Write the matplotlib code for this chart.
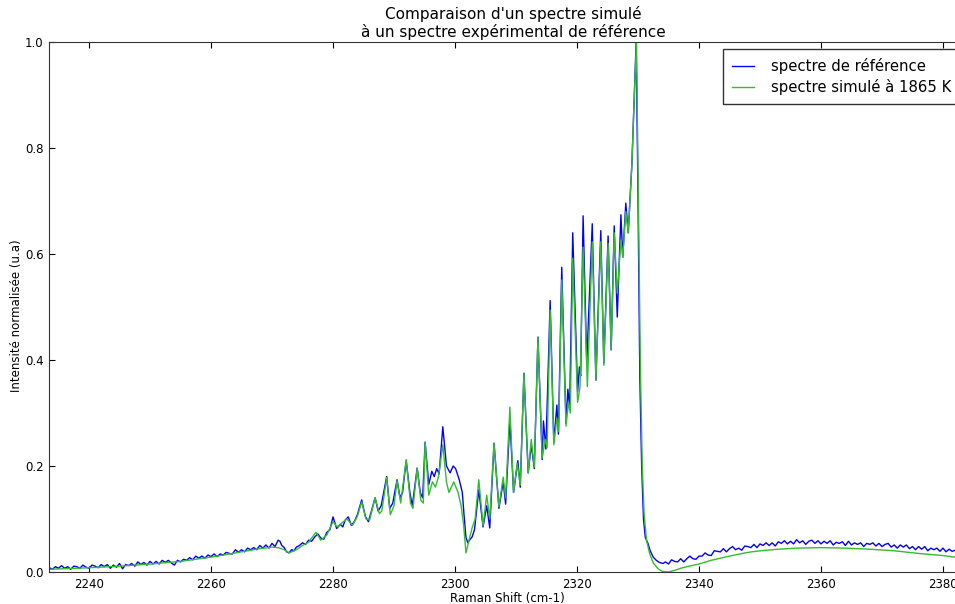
import matplotlib
matplotlib.use('Agg')
import matplotlib.pyplot as plt
import numpy as np

# reference spectrum (blue), noisy baseline part, thousandths, 0.5 cm-1 steps
ref_base_y = [8, 5, 10, 7, 12, 7, 10, 5, 11, 10,
              7, 13, 9, 7, 13, 11, 8, 14, 10, 14,
              7, 13, 9, 16, 6, 14, 12, 16, 11, 19,
              14, 18, 13, 20, 15, 20, 15, 22, 18, 22,
              17, 13, 22, 19, 24, 22, 27, 23, 30, 26,
              30, 26, 32, 29, 34, 29, 34, 32, 37, 35,
              34, 42, 37, 42, 38, 45, 42, 46, 42, 50,
              45, 51, 45, 54, 48, 60]
ref_base_range = (2233.5, 2271.0)

# reference spectrum, band region (read peak by peak)
ref_peak_x = [2271.3, 2271.6, 2272.0, 2272.4, 2272.8, 2273.2, 2273.6, 2274.0, 2274.5, 2275.0,
              2275.5, 2276.0, 2276.5, 2277.0, 2277.5, 2278.0, 2278.5, 2279.0, 2279.5, 2280.0,
              2280.6, 2281.2, 2281.6, 2282.0, 2282.5, 2283.0, 2283.5, 2284.0, 2284.7, 2285.3,
              2285.8, 2286.3, 2286.9, 2287.4, 2287.9, 2288.8, 2289.3, 2289.8, 2290.5, 2291.0,
              2291.4, 2292.0, 2292.6, 2293.0, 2293.8, 2294.3, 2294.7, 2295.1, 2295.7, 2296.2,
              2296.6, 2297.0, 2297.4, 2298.0, 2298.6, 2299.2, 2299.7, 2300.1, 2300.7, 2301.2,
              2301.5, 2301.8, 2302.1, 2302.5, 2302.8, 2303.2, 2303.9, 2304.6, 2305.2, 2305.7,
              2306.4, 2307.2, 2307.9, 2308.3, 2309.0, 2309.6, 2310.3, 2310.7, 2311.3, 2312.0,
              2312.5, 2313.0, 2313.6, 2314.3, 2314.5, 2314.9, 2315.6, 2316.2, 2316.7, 2316.95,
              2317.5, 2318.2, 2318.5, 2318.8, 2319.3, 2320.1, 2320.4, 2320.6, 2321.0, 2321.6,
              2322.5, 2323.1, 2323.9, 2324.4, 2325.1, 2325.6, 2326.1, 2326.6, 2327.2, 2327.5,
              2328.0, 2328.4, 2329.0, 2329.4, 2329.7, 2330.0, 2330.3, 2330.6, 2330.9, 2331.2,
              2331.6, 2332.0, 2332.5, 2333.0, 2333.5, 2334.1]
ref_peak_y = [0.058, 0.050, 0.046, 0.038, 0.036, 0.042, 0.040, 0.047, 0.050, 0.055,
              0.052, 0.060, 0.058, 0.066, 0.072, 0.064, 0.062, 0.075, 0.080, 0.104,
              0.082, 0.090, 0.085, 0.098, 0.104, 0.088, 0.095, 0.108, 0.136, 0.105,
              0.095, 0.115, 0.140, 0.115, 0.125, 0.180, 0.120, 0.130, 0.174, 0.140,
              0.150, 0.210, 0.150, 0.125, 0.196, 0.150, 0.140, 0.245, 0.165, 0.190,
              0.180, 0.195, 0.185, 0.274, 0.200, 0.187, 0.200, 0.195, 0.174, 0.150,
              0.105, 0.065, 0.055, 0.062, 0.066, 0.080, 0.155, 0.085, 0.125, 0.083,
              0.243, 0.120, 0.170, 0.128, 0.287, 0.150, 0.210, 0.160, 0.375, 0.187,
              0.240, 0.195, 0.443, 0.212, 0.285, 0.232, 0.512, 0.245, 0.315, 0.260,
              0.575, 0.280, 0.345, 0.310, 0.640, 0.340, 0.387, 0.370, 0.672, 0.394,
              0.657, 0.362, 0.644, 0.394, 0.634, 0.419, 0.653, 0.481, 0.674, 0.594,
              0.696, 0.640, 0.770, 0.900, 1.000, 0.710, 0.368, 0.200, 0.100, 0.065,
              0.055, 0.040, 0.028, 0.022, 0.018, 0.016]

# reference spectrum, noisy tail, thousandths, 0.5 cm-1 steps
ref_tail_y = [19, 15, 23, 20, 19, 25, 19, 25, 30, 25,
              24, 30, 30, 36, 32, 31, 40, 39, 38, 44,
              38, 44, 48, 42, 45, 41, 49, 48, 46, 52,
              46, 53, 50, 55, 50, 55, 49, 57, 54, 59,
              53, 58, 53, 61, 55, 59, 52, 58, 60, 54,
              59, 53, 58, 54, 59, 51, 56, 54, 57, 50,
              58, 51, 55, 52, 55, 48, 54, 52, 55, 49,
              54, 48, 52, 54, 47, 51, 45, 51, 47, 51,
              44, 48, 42, 48, 43, 48, 40, 45, 42, 45,
              39, 45, 38, 43, 39, 41, 36, 41, 38, 39,
              35, 39, 35]
ref_tail_range = (2334.5, 2385.5)

# simulated spectrum at 1865 K (green)
sim_x = [2233.4, 2240.0, 2245.0, 2250.0, 2255.0, 2260.0, 2265.0, 2268.0, 2270.0, 2271.0,
         2272.0, 2272.8, 2274.0, 2275.0, 2276.0, 2277.2, 2278.0, 2279.0, 2280.0, 2280.7,
         2281.5, 2282.3, 2283.2, 2284.0, 2284.7, 2285.4, 2286.0, 2286.9, 2287.6, 2288.0,
         2288.8, 2289.4, 2290.0, 2290.5, 2291.1, 2292.0, 2292.7, 2293.1, 2293.8, 2294.4,
         2294.8, 2295.1, 2295.7, 2296.3, 2296.8, 2297.3, 2298.0, 2298.6, 2299.0, 2299.8,
         2300.5, 2301.0, 2301.4, 2301.8, 2302.3, 2302.8, 2303.3, 2303.9, 2304.6, 2305.2,
         2305.7, 2306.4, 2307.2, 2307.9, 2308.3, 2309.0, 2309.6, 2310.2, 2310.7, 2311.3,
         2312.0, 2312.5, 2313.0, 2313.6, 2314.3, 2314.8, 2315.1, 2315.6, 2316.2, 2316.7,
         2317.0, 2317.5, 2318.2, 2318.6, 2318.9, 2319.3, 2320.1, 2320.5, 2321.0, 2321.7,
         2322.5, 2323.1, 2323.9, 2324.4, 2325.1, 2325.6, 2326.1, 2326.6, 2327.2, 2327.5,
         2328.0, 2328.4, 2329.0, 2329.4, 2329.75, 2330.0, 2330.4, 2330.7, 2331.0, 2331.4,
         2331.9, 2332.5, 2333.3, 2334.0, 2335.0, 2336.0, 2337.0, 2338.0, 2340.0, 2342.0,
         2345.0, 2348.0, 2350.0, 2353.0, 2356.0, 2360.0, 2364.0, 2368.0, 2372.0, 2376.0,
         2380.0, 2382.0, 2385.5]
sim_y = [0.005, 0.008, 0.011, 0.015, 0.020, 0.028, 0.038, 0.044, 0.047, 0.046,
         0.042, 0.036, 0.042, 0.050, 0.056, 0.075, 0.060, 0.070, 0.095, 0.085,
         0.093, 0.100, 0.088, 0.105, 0.132, 0.100, 0.098, 0.140, 0.110, 0.115,
         0.178, 0.108, 0.125, 0.172, 0.130, 0.212, 0.130, 0.120, 0.196, 0.135,
         0.130, 0.245, 0.145, 0.170, 0.160, 0.180, 0.240, 0.170, 0.150, 0.170,
         0.150, 0.125, 0.090, 0.036, 0.060, 0.083, 0.100, 0.174, 0.087, 0.145,
         0.100, 0.243, 0.123, 0.179, 0.140, 0.311, 0.150, 0.205, 0.164, 0.375,
         0.187, 0.250, 0.198, 0.443, 0.215, 0.250, 0.234, 0.494, 0.240, 0.290,
         0.265, 0.551, 0.275, 0.320, 0.300, 0.592, 0.320, 0.350, 0.613, 0.350,
         0.623, 0.362, 0.623, 0.390, 0.620, 0.420, 0.640, 0.526, 0.626, 0.594,
         0.680, 0.640, 0.770, 0.900, 1.000, 0.760, 0.380, 0.200, 0.110, 0.060,
         0.035, 0.017, 0.006, 0.001, 0.000, 0.003, 0.007, 0.010, 0.015, 0.022,
         0.030, 0.037, 0.040, 0.043, 0.045, 0.046, 0.045, 0.043, 0.040, 0.035,
         0.031, 0.028, 0.023]

ref_x = np.concatenate([np.linspace(*ref_base_range, len(ref_base_y)),
                        ref_peak_x,
                        np.linspace(*ref_tail_range, len(ref_tail_y))])
ref_y = np.concatenate([np.array(ref_base_y) / 1000.0,
                        ref_peak_y,
                        np.array(ref_tail_y) / 1000.0])

fig = plt.figure(figsize=(9.55, 6.04), dpi=100)
ax = fig.add_axes([0.0513, 0.053, 0.9717, 0.8775])
ax.plot(ref_x, ref_y, color='#0000ff', lw=1.0, label='spectre de référence')
ax.plot(sim_x, sim_y, color='#33bb33', lw=1.0, label='spectre simulé à 1865 K')

ax.set_xlim(2233.44, 2385.57)
ax.set_ylim(0.0, 1.0)
ax.set_xticks(np.arange(2240, 2381, 20))
ax.set_yticks(np.arange(0.0, 1.01, 0.2))
ax.tick_params(direction='in', top=True, right=True, length=4, labelsize=8.5, pad=4)
for s in ax.spines.values():
    s.set_color('#333333')

ax.set_title("Comparaison d'un spectre simulé\nà un spectre expérimental de référence",
             fontsize=11, pad=3.5)
ax.set_xlabel('Raman Shift (cm-1)', fontsize=8.5)
ax.xaxis.set_label_coords(0.4935, -0.038)
ax.set_ylabel('Intensité normalisée (u.a)', fontsize=8.5)
ax.yaxis.set_label_coords(-0.028, 0.4836)

leg = ax.legend(loc='upper left', bbox_to_anchor=(0.7263, 0.9868), borderaxespad=0,
                fontsize=10.7, fancybox=False, framealpha=1, edgecolor='#333333',
                handlelength=1.5, borderpad=0.6, labelspacing=0.35, handletextpad=1.1)
leg.get_frame().set_linewidth(1.0)

fig.savefig('out.png', dpi=100)
